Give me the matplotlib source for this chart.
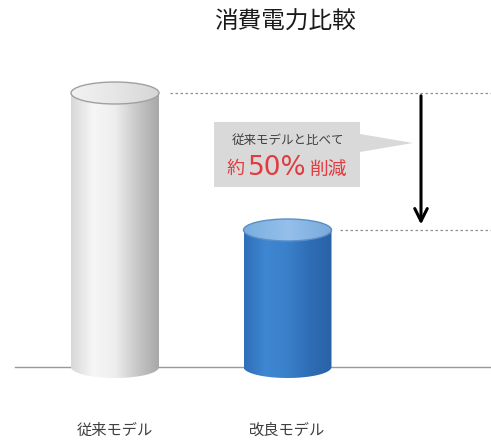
import matplotlib
matplotlib.use("Agg")
import matplotlib.pyplot as plt
import numpy as np
from matplotlib.patches import Ellipse, Polygon, PathPatch
from matplotlib.path import Path

plt.rcParams['font.family'] = ['Noto Sans CJK JP', 'DejaVu Sans']

categories = ["従来モデル", "改良モデル"]
values = [100, 50]
title = "消費電力比較"
callout_line1 = "従来モデルと比べて"
callout_pct = "50%"

W, H = 491, 441
fig = plt.figure(figsize=(W / 100, H / 100), dpi=100)
ax = fig.add_axes([0, 0, 1, 1])

# pixel layout: baseline at y=367px, value 100 at y=93px; bar centres 115px, 287.5px
scale = 2.74
base_px = 367
ax.set_ylim((base_px - H) / scale, base_px / scale)
x0_px, dx_px = 115, 172.5
ax.set_xlim(-x0_px / dx_px, (W - x0_px) / dx_px)
ax.axis("off")


def px_x(p):
    return (p - x0_px) / dx_px


def px_y(p):
    return (base_px - p) / scale


bw = 88 / dx_px
eh = 22 / scale


def gradient(cols_in):
    gx = np.linspace(0, 1, 200)
    cols = np.array([matplotlib.colors.to_rgb(c) for c in cols_in])
    pos = np.linspace(0, 1, len(cols))
    img = np.stack([np.interp(gx, pos, cols[:, k]) for k in range(3)], axis=-1)
    return np.tile(img[None, :, :], (2, 1, 1))


def cylinder(xc, v, body_cols, top_cols, edge):
    left, right = xc - bw / 2, xc + bw / 2
    t = np.linspace(np.pi, 2 * np.pi, 60)
    bx = xc + bw / 2 * np.cos(t)
    by = eh / 2 * np.sin(t)
    verts = [(left, v)] + list(zip(bx, by)) + [(right, v), (left, v)]
    patch = PathPatch(Path(verts), facecolor="none", edgecolor="none")
    ax.add_patch(patch)
    im = ax.imshow(gradient(body_cols), extent=[left, right, -eh / 2, v],
                   aspect="auto", interpolation="bilinear", zorder=2)
    im.set_clip_path(patch)
    # top ellipse
    top = Ellipse((xc, v), bw, eh, facecolor="none", edgecolor="none", zorder=3)
    ax.add_patch(top)
    tim = ax.imshow(gradient(top_cols), extent=[left, right, v - eh / 2, v + eh / 2],
                    aspect="auto", interpolation="bilinear", zorder=3)
    tim.set_clip_path(top)
    ax.add_patch(Ellipse((xc, v), bw, eh, facecolor="none", edgecolor=edge,
                         lw=1.0, zorder=4))


# baseline
ax.plot([px_x(15), px_x(W)], [0, 0], color="#9a9a9a", lw=1.0, zorder=1)

cylinder(0, values[0], ["#d8d8d8", "#f6f6f6", "#eeeeee", "#c8c8c8", "#a8a8a8"],
         ["#f2f2f2", "#e6e6e6", "#d6d6d6"], "#a0a0a0")
cylinder(1, values[1], ["#2f6fb8", "#3f87d2", "#3a80c9", "#2e6db5", "#2a62a6"],
         ["#7aaee0", "#94c0ea", "#78aadb"], "#5b8fc8")

# dotted reference lines
ax.plot([px_x(170), px_x(W)], [values[0], values[0]], ls=(0, (2, 2)),
        color="#909090", lw=0.9)
ax.plot([px_x(340), px_x(W)], [values[1], values[1]], ls=(0, (2, 2)),
        color="#909090", lw=0.9)

# arrow
ax.annotate("", xy=(px_x(421), values[1] + 1), xytext=(px_x(421), values[0]),
            arrowprops=dict(arrowstyle="->,head_length=0.9,head_width=0.45",
                            color="black", lw=2.2))

# callout
call = Polygon([(px_x(214), px_y(122)), (px_x(360), px_y(122)),
                (px_x(360), px_y(134)), (px_x(413), px_y(143)),
                (px_x(360), px_y(152)), (px_x(360), px_y(187)),
                (px_x(214), px_y(187))], closed=True,
               facecolor="#d9d9d9", edgecolor="none", zorder=2)
ax.add_patch(call)
ax.text(px_x(288), px_y(140), callout_line1, ha="center", va="center",
        fontsize=9, color="#404040", zorder=5)
red = "#e23a3f"
ax.text(px_x(236), px_y(169), "約", ha="center", va="center",
        fontsize=13, color=red, zorder=5)
ax.text(px_x(277), px_y(168), callout_pct, ha="center", va="center",
        fontsize=19, color=red, family="DejaVu Sans", zorder=5)
ax.text(px_x(329), px_y(169), "削減", ha="center", va="center",
        fontsize=13.5, color=red, zorder=5)

# title and labels
ax.text(px_x(285), px_y(22), title, ha="center", va="center",
        fontsize=17, color="#1a1a1a")
for i, c in enumerate(categories):
    ax.text(i, px_y(430), c, ha="center", va="center", fontsize=11,
            color="#404040")

fig.savefig("out.png", dpi=100)
